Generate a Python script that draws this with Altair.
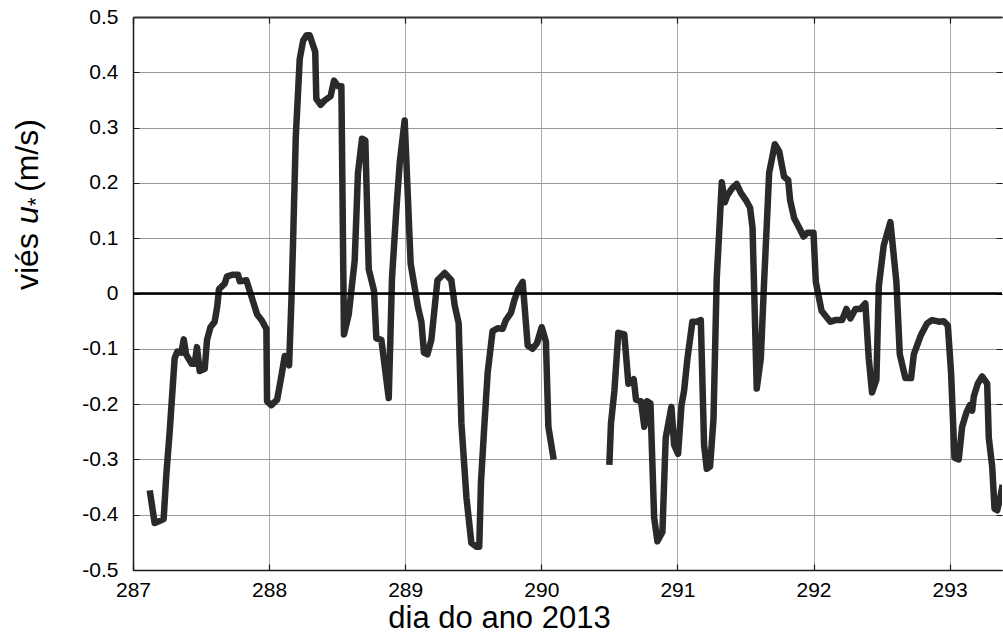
import altair as alt
import pandas as pd

# Friction-velocity bias, first stretch (before the data gap)
day_a = [
    287.123, 287.159, 287.190, 287.225, 287.245, 287.270, 287.306, 287.326, 287.355, 287.373,
    287.390, 287.430, 287.453, 287.470, 287.490, 287.527, 287.544, 287.569, 287.600, 287.618,
    287.632, 287.674, 287.691, 287.735, 287.772, 287.784, 287.833, 287.870, 287.912, 287.944,
    287.980, 287.985, 288.017, 288.059, 288.090, 288.115, 288.147, 288.164, 288.176, 288.196,
    288.225, 288.250, 288.275, 288.298, 288.339, 288.347, 288.379, 288.408, 288.452, 288.477,
    288.506, 288.531, 288.550, 288.585, 288.629, 288.653, 288.683, 288.707, 288.732, 288.771,
    288.788, 288.825, 288.879, 288.903, 288.935, 288.960, 288.996, 289.040, 289.094, 289.119,
    289.138, 289.163, 289.192, 289.237, 289.290, 289.339, 289.364, 289.393, 289.413, 289.450,
    289.486, 289.523, 289.544, 289.557, 289.581, 289.606, 289.642, 289.679, 289.716, 289.740,
    289.777, 289.802, 289.831, 289.863, 289.900, 289.936, 289.968, 290.003, 290.034, 290.052,
    290.091,
]
vies_a = [
    -0.356, -0.415, -0.412, -0.408, -0.327, -0.248, -0.117, -0.105, -0.107, -0.083,
    -0.110, -0.127, -0.127, -0.097, -0.140, -0.136, -0.084, -0.061, -0.051, -0.025,
    0.008, 0.018, 0.031, 0.034, 0.034, 0.022, 0.024, -0.005, -0.038, -0.048,
    -0.064, -0.195, -0.202, -0.192, -0.150, -0.113, -0.130, -0.012, 0.093, 0.283,
    0.424, 0.457, 0.467, 0.467, 0.437, 0.352, 0.341, 0.349, 0.357, 0.385,
    0.375, 0.375, -0.074, -0.038, 0.060, 0.218, 0.280, 0.277, 0.044, 0.005,
    -0.081, -0.084, -0.189, 0.028, 0.152, 0.237, 0.313, 0.054, -0.025, -0.051,
    -0.107, -0.110, -0.084, 0.024, 0.037, 0.024, -0.022, -0.054, -0.235, -0.369,
    -0.451, -0.458, -0.458, -0.340, -0.241, -0.143, -0.068, -0.063, -0.064, -0.048,
    -0.035, -0.012, 0.008, 0.021, -0.094, -0.100, -0.090, -0.061, -0.087, -0.241,
    -0.300,
]

# Second stretch (after the data gap)
day_b = [
    290.500, 290.512, 290.537, 290.566, 290.610, 290.640, 290.679, 290.696, 290.733, 290.757,
    290.777, 290.802, 290.829, 290.853, 290.890, 290.914, 290.956, 290.976, 291.005, 291.030,
    291.049, 291.074, 291.110, 291.142, 291.172, 291.196, 291.216, 291.240, 291.265, 291.289,
    291.306, 291.326, 291.348, 291.368, 291.404, 291.436, 291.466, 291.503, 291.534, 291.552,
    291.583, 291.613, 291.637, 291.662, 291.674, 291.716, 291.748, 291.784, 291.814, 291.828,
    291.858, 291.895, 291.927, 291.956, 292.000, 292.017, 292.059, 292.091, 292.124, 292.161,
    292.210, 292.242, 292.271, 292.308, 292.345, 292.381, 292.406, 292.430, 292.462, 292.480,
    292.516, 292.565, 292.609, 292.634, 292.675, 292.717, 292.737, 292.786, 292.835, 292.872,
    292.921, 292.957, 292.987, 293.011, 293.036, 293.067, 293.092, 293.124, 293.149, 293.166,
    293.178, 293.207, 293.239, 293.276, 293.288, 293.313, 293.330, 293.350, 293.374, 293.390,
]
vies_b = [
    -0.310, -0.235, -0.176, -0.071, -0.074, -0.163, -0.155, -0.192, -0.195, -0.241,
    -0.195, -0.199, -0.405, -0.448, -0.431, -0.261, -0.205, -0.274, -0.290, -0.202,
    -0.176, -0.117, -0.051, -0.051, -0.048, -0.274, -0.317, -0.313, -0.228, 0.028,
    0.106, 0.201, 0.165, 0.178, 0.191, 0.198, 0.182, 0.169, 0.155, 0.119,
    -0.172, -0.117, 0.021, 0.152, 0.218, 0.270, 0.257, 0.211, 0.205, 0.169,
    0.136, 0.119, 0.103, 0.110, 0.110, 0.021, -0.031, -0.041, -0.051, -0.048,
    -0.048, -0.028, -0.045, -0.028, -0.028, -0.018, -0.117, -0.179, -0.156, 0.014,
    0.087, 0.129, 0.021, -0.110, -0.153, -0.153, -0.110, -0.077, -0.054, -0.048,
    -0.051, -0.050, -0.058, -0.144, -0.297, -0.300, -0.241, -0.215, -0.202, -0.212,
    -0.186, -0.163, -0.150, -0.163, -0.261, -0.313, -0.389, -0.392, -0.366, -0.346,
]

# Reference line at zero
zero_days = [287.0, 293.4]
zero_vals = [0.0, 0.0]

x_ticks = [287, 288, 289, 290, 291, 292, 293]
y_ticks = [-0.5, -0.4, -0.3, -0.2, -0.1, 0.0, 0.1, 0.2, 0.3, 0.4, 0.5]
x_domain = [287.0, 293.385]
y_domain = [-0.5, 0.5]

W, H = 869, 553
FONT = "Liberation Sans"
INK = "#1a1a1a"

series = pd.concat([
    pd.DataFrame({"dia": day_a, "vies": vies_a, "trecho": "a"}),
    pd.DataFrame({"dia": day_b, "vies": vies_b, "trecho": "b"}),
])
zero_df = pd.DataFrame({"dia": zero_days, "vies": zero_vals})

x_scale = alt.Scale(domain=x_domain, nice=False, zero=False)
y_scale = alt.Scale(domain=y_domain, nice=False, zero=False)

# Main axes: labels, left/bottom frame and the light grid
x_axis = alt.Axis(
    orient="bottom", values=x_ticks, format="d", ticks=False,
    domain=True, domainColor=INK, domainWidth=1.5,
    grid=True, gridColor="#555555", gridDash=[1, 1], gridWidth=1,
    labelFont=FONT, labelFontSize=21, labelColor="black", labelPadding=9,
    labelFlush=False, labelOverlap=False,
    title="dia do ano 2013", titleFont=FONT, titleFontSize=31,
    titleFontWeight="normal", titleColor="black",
    titleX=366, titleY=57, titleAlign="center", titleBaseline="alphabetic",
)
y_axis = alt.Axis(
    orient="left", values=y_ticks, labelExpr="toString(datum.value)", ticks=False,
    domain=True, domainColor=INK, domainWidth=1.5,
    grid=True, gridColor="#999999", gridWidth=1,
    labelFont=FONT, labelFontSize=21, labelColor="black", labelPadding=15,
    labelFlush=False, labelOverlap=False,
)

# Inward tick marks at both ends of every grid line, plus the top frame
x_ticks_axis = alt.Axis(
    orient="top", values=x_ticks, labels=False, ticks=False,
    domain=True, domainColor="#333333", domainWidth=2,
    grid=True, gridColor=INK, gridWidth=1.2, gridDash=[6, H - 12, 6],
)
y_ticks_axis = alt.Axis(
    orient="right", values=y_ticks, labels=False, ticks=False, domain=False,
    grid=True, gridColor=INK, gridWidth=1.2, gridDash=[6, W - 12, 6],
)

curve = alt.Chart(series).mark_line(
    color="#2a2a2a", strokeWidth=6.5, strokeJoin="round", strokeCap="butt", clip=True
).encode(
    x=alt.X("dia:Q", scale=x_scale, axis=x_axis),
    y=alt.Y("vies:Q", scale=y_scale, axis=y_axis, title=None),
    detail="trecho:N",
)

zero_line = alt.Chart(zero_df).mark_line(color="black", strokeWidth=2.5, clip=True).encode(
    x=alt.X("dia:Q", scale=x_scale, axis=x_ticks_axis, title=None),
    y=alt.Y("vies:Q", scale=y_scale, axis=y_ticks_axis, title=None),
)

# Y-axis title built from pieces: "viés", italic u, subscript asterisk, "(m/s)"
def title_piece(txt, y, size=32, style="normal", dx=0):
    return alt.Chart(pd.DataFrame({"t": [txt]})).mark_text(
        angle=270, align="left", baseline="alphabetic", font=FONT,
        fontSize=size, fontStyle=style, color="black",
    ).encode(x=alt.value(-95 + dx), y=alt.value(y), text="t:N")

y_title = [
    title_piece("viés", 273),
    title_piece("u", 207, style="italic"),
    title_piece("*", 189, size=22, dx=5),
    title_piece("(m/s)", 175),
]

chart = alt.layer(curve, zero_line, *y_title).resolve_axis(
    x="independent", y="independent"
).properties(
    width=W, height=H,
    autosize=alt.AutoSizeParams(type="none"),
    padding={"left": 133, "top": 17, "right": 1, "bottom": 70},
    background="white",
).configure_view(stroke=None)

chart.save("out.html", embed_options={"renderer": "svg", "actions": False})
